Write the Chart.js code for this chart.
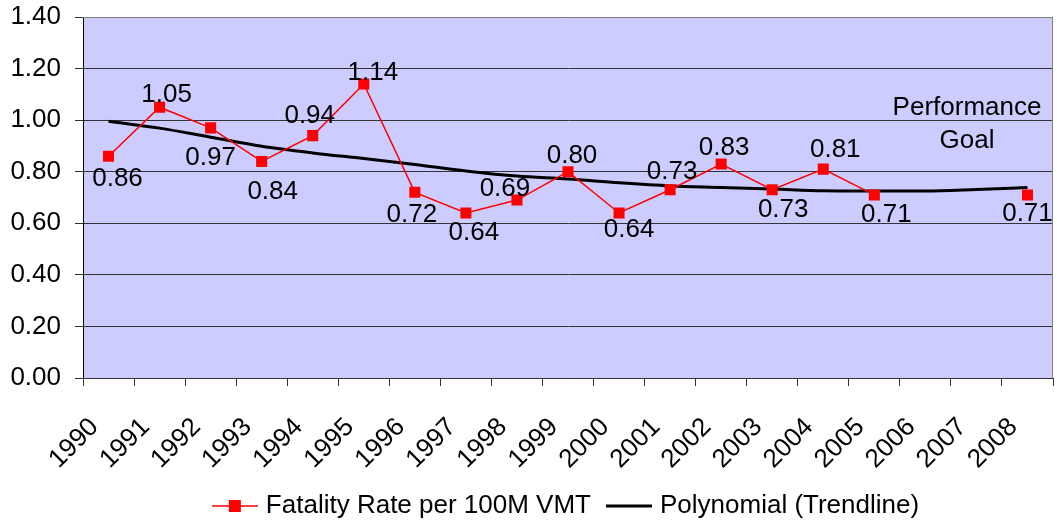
<!DOCTYPE html>
<html>
<head>
<meta charset="utf-8">
<title>Fatality Rate per 100M VMT</title>
<script src="https://cdn.jsdelivr.net/npm/chart.js@4.4.1/dist/chart.umd.min.js"></script>
<style>
  html, body { margin: 0; padding: 0; background: #ffffff; }
  #wrap { width: 1057px; height: 522px; }
</style>
</head>
<body>
<div id="wrap"><canvas id="chart" width="1057" height="522"></canvas></div>
<script>
// --- data ---
const years = ['1990', '1991', '1992', '1993', '1994', '1995', '1996', '1997', '1998', '1999',
               '2000', '2001', '2002', '2003', '2004', '2005', '2006', '2007', '2008'];
const fatalityRate = [0.86, 1.05, 0.97, 0.84, 0.94, 1.14, 0.72, 0.64, 0.69, 0.80,
                      0.64, 0.73, 0.83, 0.73, 0.81, 0.71, null, null, 0.71];
const trendline = [0.996, 0.969, 0.934, 0.899, 0.873, 0.851, 0.828, 0.803, 0.783, 0.772,
                   0.757, 0.745, 0.739, 0.733, 0.726, 0.725, 0.725, 0.731, 0.739];
const yTicks = [0, 0.2, 0.4, 0.6, 0.8, 1.0, 1.2, 1.4];
const goalText = ['Performance', 'Goal'];
const seriesNames = ['Fatality Rate per 100M VMT', 'Polynomial (Trendline)'];

const FONT = "'Liberation Sans', Arial, sans-serif";
const FS = 26;

// where each data label sits relative to its point (px)
const labelShift = [[9, 23], [7, -12], [0, 30], [11, 30], [-3, -20], [9, -11], [-3, 22], [8, 20],
                    [-12, -11], [4, -16], [10, 17], [2, -18], [3, -16], [11, 20], [12, -19], [12, 20],
                    null, null, [0, 19]];

// legend symbols: line + square for the rate, plain thick line for the trend
function legendIcon(color, lineW, withSquare) {
  const c = document.createElement('canvas');
  c.width = 46; c.height = 14;
  const ctx = c.getContext('2d');
  ctx.strokeStyle = color;
  ctx.lineWidth = lineW;
  ctx.beginPath(); ctx.moveTo(0, 7); ctx.lineTo(46, 7); ctx.stroke();
  if (withSquare) { ctx.fillStyle = color; ctx.fillRect(17, 1, 12, 12); }
  return c;
}

const plotBg = {
  id: 'plotBg',
  afterLayout(chart) {
    // legend centered under the plot area, like the original
    const a = chart.chartArea, lg = chart.legend;
    if (lg) {
      lg.left = a.left; lg.right = a.right;
      lg.top -= 5; lg.bottom -= 5;
    }
  },
  beforeDraw(chart) {
    const a = chart.chartArea, ctx = chart.ctx;
    ctx.save();
    ctx.fillStyle = '#CCCCFF';
    ctx.fillRect(a.left, a.top, a.right - a.left, a.bottom - a.top);
    ctx.restore();
  },
  afterDraw(chart) {
    const a = chart.chartArea, ctx = chart.ctx;
    ctx.save();
    ctx.strokeStyle = '#808080';
    ctx.lineWidth = 1;
    ctx.beginPath();
    ctx.moveTo(a.left, a.top + 0.5); ctx.lineTo(a.right - 0.5, a.top + 0.5); ctx.lineTo(a.right - 0.5, a.bottom);
    ctx.stroke();
    ctx.restore();
  }
};

const pointLabels = {
  id: 'pointLabels',
  afterDatasetsDraw(chart) {
    const ctx = chart.ctx;
    const meta = chart.getDatasetMeta(0);
    ctx.save();
    ctx.font = FS + 'px ' + FONT;
    ctx.fillStyle = '#000';
    ctx.textAlign = 'center';
    ctx.textBaseline = 'middle';
    meta.data.forEach((pt, i) => {
      const v = fatalityRate[i];
      if (v === null || !labelShift[i]) return;
      ctx.fillText(v.toFixed(2), pt.x + labelShift[i][0], pt.y + labelShift[i][1]);
    });
    // "Performance Goal" note
    const a = chart.chartArea, y = chart.scales.y;
    ctx.fillText(goalText[0], a.right - 86, y.getPixelForValue(1.047));
    ctx.fillText(goalText[1], a.right - 86, y.getPixelForValue(0.919));
    ctx.restore();
  }
};

new Chart(document.getElementById('chart'), {
  type: 'line',
  data: {
    labels: years,
    datasets: [
      {
        label: seriesNames[0],
        data: fatalityRate,
        borderColor: '#FF0000',
        backgroundColor: '#FF0000',
        borderWidth: 1.5,
        pointStyle: 'rect',
        pointRadius: 7.8,
        pointBorderWidth: 0,
        spanGaps: false,
        order: 1
      },
      {
        label: seriesNames[1],
        data: trendline,
        borderColor: '#000000',
        borderWidth: 3,
        pointRadius: 0,
        cubicInterpolationMode: 'monotone',
        order: 2
      }
    ]
  },
  options: {
    responsive: false,
    animation: false,
    // negative bottom padding: the x axis box is taller so the rotated labels are not clipped
    layout: { autoPadding: false, padding: { top: 17, right: 4, left: 0, bottom: -12 } },
    plugins: {
      tooltip: { enabled: false },
      legend: {
        position: 'bottom',
        labels: {
          usePointStyle: true,
          pointStyleWidth: 36,
          padding: 20,
          color: '#000',
          font: { family: FONT, size: FS },
          generateLabels(chart) {
            return [
              { text: seriesNames[0], pointStyle: legendIcon('#FF0000', 1.5, true), datasetIndex: 0, fontColor: '#000' },
              { text: seriesNames[1], pointStyle: legendIcon('#000000', 3, false), datasetIndex: 1, fontColor: '#000' }
            ];
          }
        }
      }
    },
    scales: {
      x: {
        type: 'category',
        offset: true,
        grid: { offset: true, drawOnChartArea: false, tickLength: 8, color: '#333' },
        border: { color: '#333' },
        ticks: {
          autoSkip: false, minRotation: 45, maxRotation: 45,
          labelOffset: -14, padding: 26,
          color: '#000', font: { family: FONT, size: FS }
        },
        afterFit(scale) {
          scale.height = 100;
          scale.paddingLeft = 0; scale.paddingRight = 0;
        }
      },
      y: {
        min: 0, max: 1.4,
        grid: { color: '#333', tickLength: 8 },
        border: { color: '#000' },
        afterBuildTicks(scale) { scale.ticks = yTicks.map(v => ({ value: v })); },
        ticks: {
          color: '#000', padding: 14,
          font: { family: FONT, size: FS },
          callback: v => Number(v).toFixed(2)
        },
        afterFit(scale) {
          scale.width = 83;
          scale.paddingTop = 0; scale.paddingBottom = 0;
        }
      }
    }
  },
  plugins: [plotBg, pointLabels]
});
</script>
</body>
</html>
